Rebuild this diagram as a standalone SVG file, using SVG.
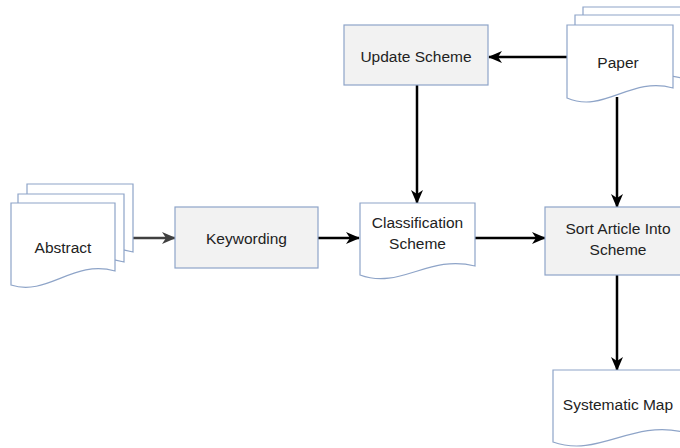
<svg xmlns="http://www.w3.org/2000/svg" width="680" height="448" viewBox="0 0 680 448">
<style>
.box{fill:#f2f2f2;stroke:#8ea4c8;stroke-width:1.2}
.doc{fill:#ffffff;stroke:#8ea4c8;stroke-width:1.2}
.lbl{font-family:"Liberation Sans",Arial,sans-serif;font-size:15.5px;fill:#222222;text-anchor:middle}
.con{fill:none;stroke:#000;stroke-width:2.5}
</style>
<defs>
<marker id="ah" markerUnits="userSpaceOnUse" markerWidth="14" markerHeight="12" refX="13" refY="6" orient="auto">
<path d="M0,0 L14,6 L0,12 L4,6 Z" fill="#000"/>
</marker>
<marker id="ahg" markerUnits="userSpaceOnUse" markerWidth="14" markerHeight="12" refX="13" refY="6" orient="auto">
<path d="M0,0 L14,6 L0,12 L4,6 Z" fill="#404040"/>
</marker>
</defs>
<rect width="680" height="448" fill="#ffffff"/>
<g id="connectors">
<path class="con" d="M133,238 L175,238" style="stroke:#404040" marker-end="url(#ahg)"/>
<path class="con" d="M318,238 L359,238" marker-end="url(#ah)"/>
<path class="con" d="M475,238 L545,238" marker-end="url(#ah)"/>
<path class="con" d="M567,57 L489,57" marker-end="url(#ah)"/>
<path class="con" d="M417,85 L417,203" marker-end="url(#ah)"/>
<path class="con" d="M617,97 L617,207" marker-end="url(#ah)"/>
<path class="con" d="M617,275 L617,370" marker-end="url(#ah)"/>
</g>
<g id="abstract">
<path class="doc" d="M27,184 H133 V252 C90.6,240 64.1,278 27,266 Z"/>
<path class="doc" d="M18,194 H124 V262 C81.6,250 55.1,288 18,276 Z"/>
<path class="doc" d="M11,203 H115 V271 C73.4,259 47.4,297 11,285 Z"/>
<text class="lbl" x="63" y="253">Abstract</text>
</g>
<g id="keywording">
<rect class="box" x="175" y="207" width="143" height="61"/>
<text class="lbl" x="246.5" y="244">Keywording</text>
</g>
<g id="classification">
<path class="doc" d="M360,203 H475 V266 C429,254 400,290 360,275 Z"/>
<text class="lbl" x="417.5" y="228">Classification</text>
<text class="lbl" x="417.5" y="249">Scheme</text>
</g>
<g id="sort">
<rect class="box" x="545" y="207" width="146" height="68"/>
<text class="lbl" x="618" y="234">Sort Article Into</text>
<text class="lbl" x="618" y="255">Scheme</text>
</g>
<g id="update">
<rect class="box" x="344" y="25" width="144" height="60"/>
<text class="lbl" x="416" y="62">Update Scheme</text>
</g>
<g id="paper">
<path class="doc" d="M583,7 H689 V70 C646.6,58 620.1,96 583,80 Z"/>
<path class="doc" d="M575,15 H681 V78 C638.6,66 612.1,104 575,88 Z"/>
<path class="doc" d="M567,25 H673 V88 C630.6,76 604.1,114 567,98 Z"/>
<text class="lbl" x="618" y="68">Paper</text>
</g>
<g id="map">
<path class="doc" d="M553,370 H683 V432 C631,420 598.5,458 553,442 Z"/>
<text class="lbl" x="618" y="410">Systematic Map</text>
</g>
</svg>
